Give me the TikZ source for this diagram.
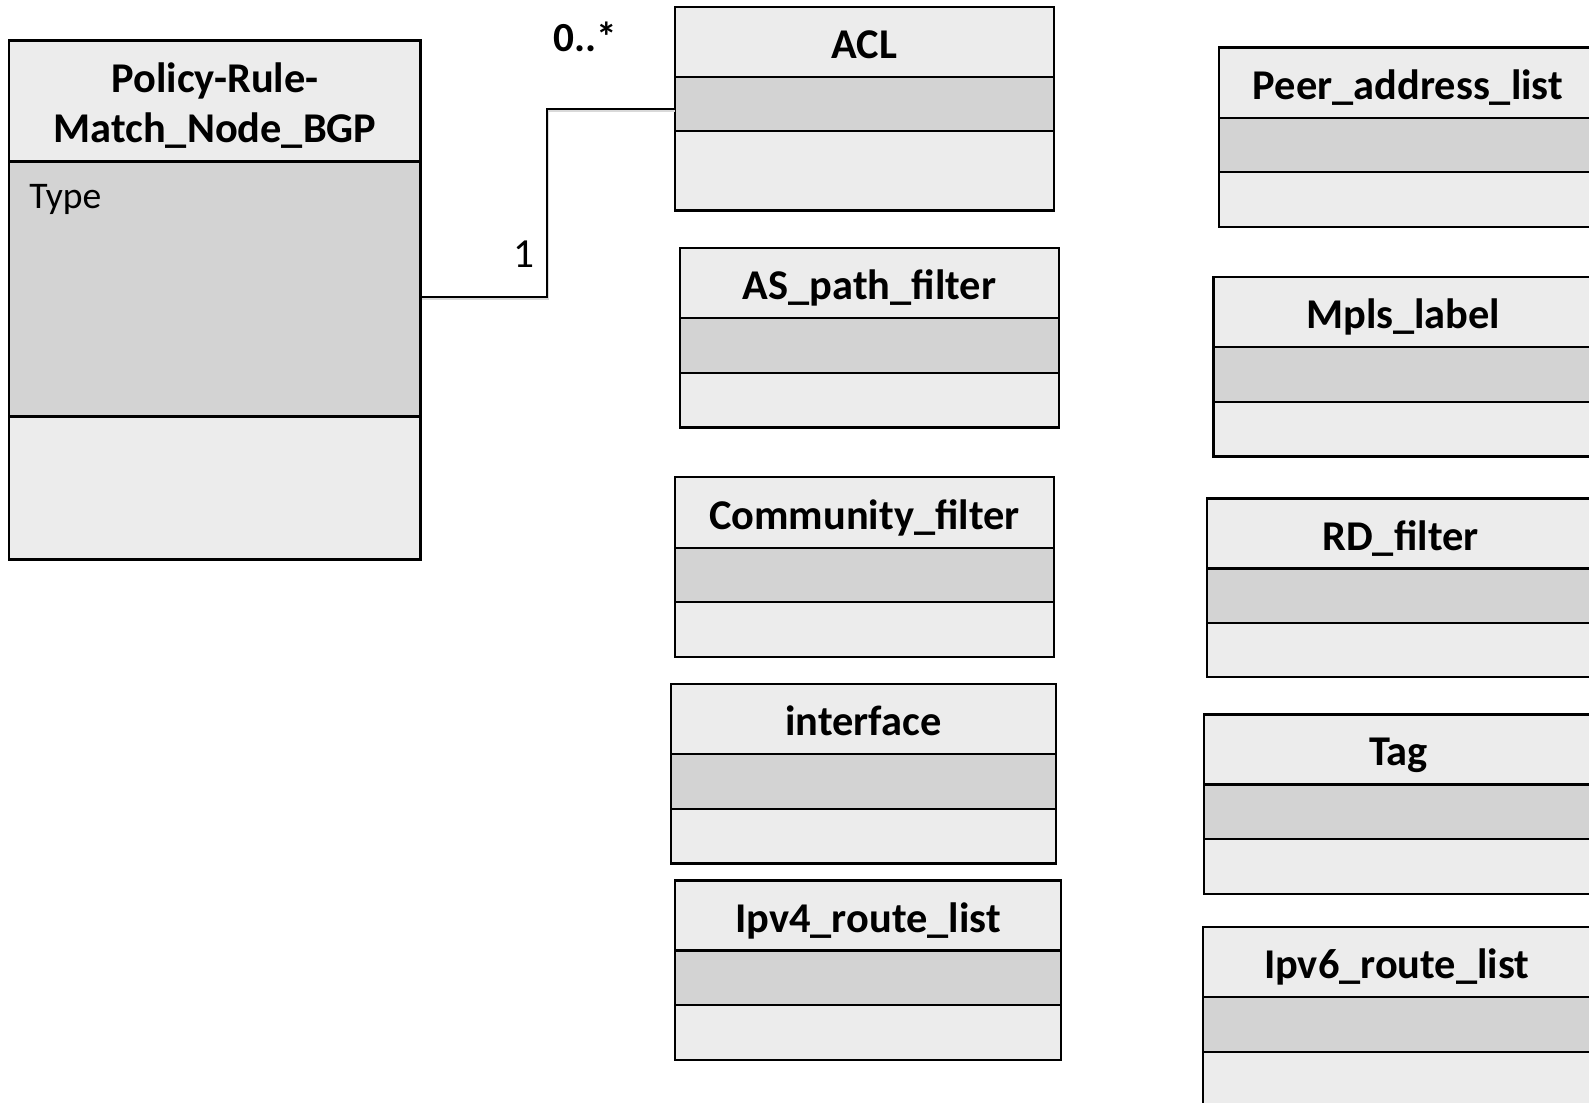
\documentclass[tikz,border=0pt]{standalone}
\usepackage{fontspec}
\setmainfont{Carlito}
\usetikzlibrary{fit}
\definecolor{bandlight}{RGB}{236,236,236}
\definecolor{banddark}{RGB}{211,211,211}
\newcommand\titlefont{\fontsize{31.8}{37.5}\selectfont\bfseries}
\newcommand\attrfont{\fontsize{28.2}{32}\selectfont}
\newcommand\multfont{\fontsize{31}{36}\selectfont}
\tikzset{
  compart/.style={draw=black, line width=1.7pt, inner sep=0pt, outer sep=0pt},
  titleband/.style={compart, fill=bandlight},
  attrband/.style={compart, fill=banddark},
  titletext/.style={anchor=base, inner sep=0pt, font=\titlefont},
  attrtext/.style={anchor=base west, inner sep=0pt, font=\attrfont},
  multlabel/.style={anchor=base, inner sep=0pt, font=\multfont},
  conn/.style={draw=black, line width=1.5pt},
  connshadow/.style={draw=black!15, line width=1.8pt},
}
% #1 name, #2 left, #3 top, #4 right, #5 first divider, #6 second divider, #7 bottom
\newcommand\umlframe[7]{%
  \node[titleband, fit={(#2,#3) (#4,#5)}] (#1-t) {};
  \node[attrband, fit={(#2,#5) (#4,#6)}] (#1-a) {};
  \node[titleband, fit={(#2,#6) (#4,#7)}] (#1-o) {};
}
% same, with a one-line title #8
\newcommand\umlbox[8]{%
  \umlframe{#1}{#2}{#3}{#4}{#5}{#6}{#7}
  \node[titletext] (#1-name) at ({(#2+#4)/2},{#5-18.5}) {#8};
}
\begin{document}
\begin{tikzpicture}[x=0.75pt, y=-0.75pt]
\useasboundingbox (0,0) rectangle (1589,1103);
\clip (0,0) rectangle (1589,1103);
\fill[white] (0,0) rectangle (1589,1103);

% main class
\umlframe{main}{9}{40.5}{420.5}{161.5}{416.5}{559.5}
\node[titletext, align=center] (main-name) at (215,142.5) {Policy-Rule-\\Match\_Node\_BGP};
\node[attrtext] (main-type) at (29,208.3) {Type};

% middle column
\umlbox{acl}{675}{7}{1054}{77.3}{131}{210.5}{ACL}
\umlbox{aspath}{680}{248.3}{1059}{318.3}{372.8}{427.5}{AS\_path\_filter}
\umlbox{community}{675}{477.3}{1054}{548.2}{602}{656.7}{Community\_filter}
\umlbox{interface}{671}{684}{1056}{754}{808.7}{863.4}{interface}
\umlbox{ipvfour}{675}{880.6}{1061}{950.6}{1005.3}{1060}{Ipv4\_route\_list}

% right column (cut by the right edge)
\umlbox{peer}{1219}{47.6}{1597}{118}{172.3}{227.3}{Peer\_address\_list}
\umlbox{mpls}{1213.5}{276.7}{1593}{347}{402}{456.5}{Mpls\_label}
\umlbox{rd}{1207}{498.6}{1594}{568.5}{623.2}{677}{RD\_filter}
\umlbox{tag}{1204}{714.4}{1593}{784.4}{839}{893.8}{Tag}
\umlbox{ipvsix}{1203.3}{926.7}{1590}{996.7}{1051.7}{1115}{Ipv6\_route\_list}

% association
\coordinate (bendlow) at (546.7,297.3);
\coordinate (bendhigh) at (546.7,109.3);
\draw[connshadow] ([shift={(0.9pt,-0.9pt)}]main-a.east |- bendlow) -- ([shift={(0.9pt,-0.9pt)}]bendlow) -- ([shift={(0.9pt,-0.9pt)}]bendhigh) -- ([shift={(0pt,-0.9pt)}]acl-a.west |- bendhigh);
\draw[conn] (main-a.east |- bendlow) -- (bendlow) -- (bendhigh) -- (acl-a.west |- bendhigh);
\node[multlabel] (mult-one) at (524,267.7) {1};
\node[multlabel, font=\multfont\bfseries] (mult-many) at (585.5,51.7) {0..*};
\end{tikzpicture}
\end{document}
